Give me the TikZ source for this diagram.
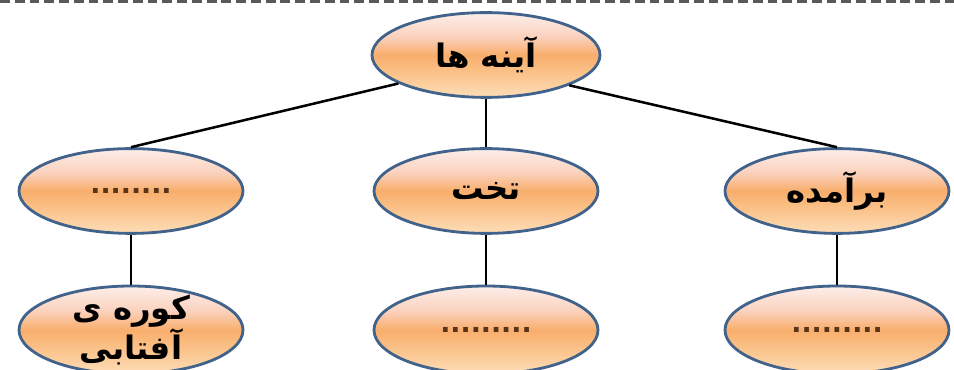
\documentclass[tikz,border=0pt]{standalone}
\usepackage{fontspec}
\usetikzlibrary{shapes,arrows}
\newfontfamily\arabicfont[Script=Arabic]{DejaVu Sans}
\TeXXeTstate=1
\definecolor{rimblue}{HTML}{41628A}
\definecolor{dotbrown}{HTML}{5A3418}
\definecolor{peachlow}{HTML}{FDDDB8}
\definecolor{peachmid}{HTML}{FBC58E}
\definecolor{peachcore}{HTML}{F8AE6C}
\definecolor{peachpink}{HTML}{FBD2BE}
\definecolor{peachtop}{HTML}{FDEEEA}
\pgfdeclareverticalshading{peachball}{100bp}{color(0bp)=(peachlow); color(25bp)=(peachlow); color(38bp)=(peachmid); color(50bp)=(peachcore); color(61bp)=(peachpink); color(75bp)=(peachtop); color(100bp)=(peachtop)}

\begin{document}
\begin{tikzpicture}[auto,
  bubble/.style={ellipse, draw=rimblue, line width=2pt, shading=peachball, minimum width=5.6cm, minimum height=2.12cm, inner sep=0pt, align=center, font=\arabicfont\bfseries\fontsize{23}{27}\selectfont},
  blank/.style={text=dotbrown, font=\arabicfont\bfseries\fontsize{19}{22}\selectfont},
  line/.style={draw, line width=1.8pt, black}]
\useasboundingbox (0,0) rectangle (23.85,-9.25);
\draw[gray!70!black, line width=2.5pt, dash pattern=on 7pt off 3.5pt] (0,-0.04) -- (23.85,-0.04);

\node [bubble, minimum width=5.7cm] at (12.15,-1.375) (mirrors) {\beginR آینه ها\endR};
\node [bubble, below of = mirrors, yshift=-2.4cm] (flat) {\beginR تخت\endR};
\node [bubble, blank, left of = flat, xshift=-7.875cm] (concaveq) {........};
\node [bubble, right of = flat, xshift=7.775cm] (convex) {\beginR برآمده\endR};
\node [bubble, below of = concaveq, yshift=-2.475cm, minimum height=2.2cm, inner ysep=-6pt] (solar) {\beginR کوره ی\endR\\\beginR آفتابی\endR};
\node [bubble, blank, below of = flat, yshift=-2.475cm, minimum height=2.2cm] (flatq) {.........};
\node [bubble, blank, below of = convex, yshift=-2.475cm, minimum height=2.2cm] (convexq) {.........};

\begin{scope}[every path/.style=line]
  \path (mirrors.198) -- (concaveq.north);
  \path (mirrors) -- (flat);
  \path (mirrors.340) -- (convex.north);
  \path (concaveq) -- (solar);
  \path (flat) -- (flatq);
  \path (convex) -- (convexq);
\end{scope}
\end{tikzpicture}
\end{document}
